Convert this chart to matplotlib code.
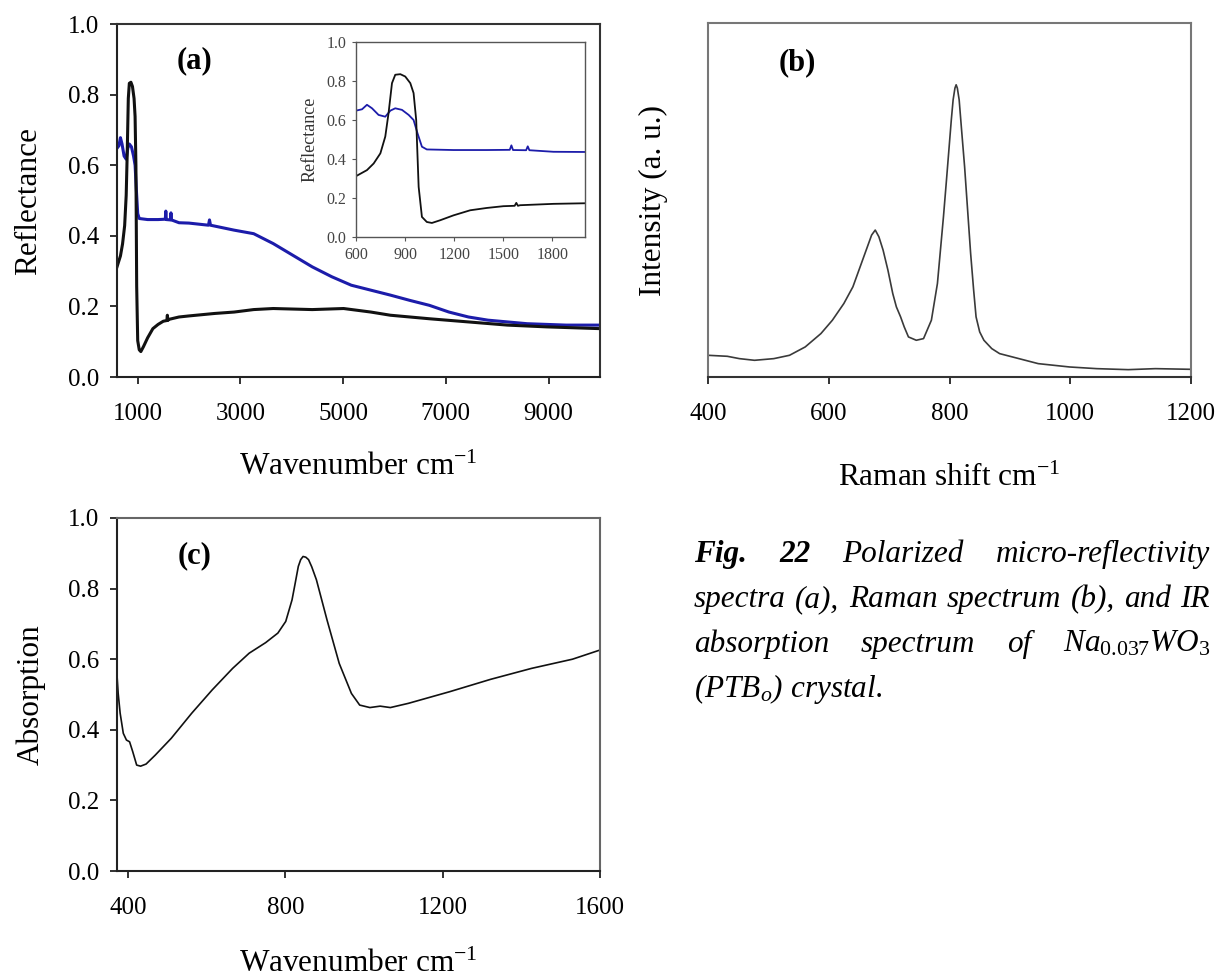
import matplotlib
matplotlib.use("Agg")
import matplotlib.pyplot as plt
from matplotlib.ticker import FixedLocator, FormatStrFormatter

# Panel (a): polarized micro-reflectivity (two polarizations)
refl_black_x = [600, 667, 708, 749, 779, 799, 820, 840, 871, 901, 932, 952, 968, 983, 1003,
                1033, 1064, 1115, 1196, 1298, 1400, 1501, 1570, 1580, 1590, 1603, 1807, 2000,
                2500, 2880, 3260, 3640, 4400, 5010, 5540, 5920, 6680, 7440, 8200, 8960, 10000]
refl_black_y = [0.312, 0.343, 0.377, 0.429, 0.515, 0.635, 0.789, 0.832, 0.835, 0.823, 0.789,
                0.738, 0.600, 0.257, 0.103, 0.077, 0.072, 0.086, 0.111, 0.137, 0.149, 0.158,
                0.160, 0.175, 0.160, 0.163, 0.170, 0.173, 0.180, 0.184, 0.191, 0.194, 0.191,
                0.194, 0.184, 0.175, 0.165, 0.156, 0.147, 0.142, 0.137]
refl_blue_x = [600, 637, 667, 698, 738, 779, 810, 840, 881, 922, 952, 976, 1003, 1033, 1196,
               1400, 1540, 1550, 1560, 1640, 1650, 1660, 1807, 2000, 2380, 2400, 2420, 2880,
               3260, 3640, 4020, 4400, 4780, 5160, 5540, 5920, 6300, 6680, 7060, 7440, 7820,
               8200, 8580, 8960, 9340, 10000]
refl_blue_y = [0.648, 0.655, 0.678, 0.660, 0.626, 0.617, 0.648, 0.660, 0.652, 0.626, 0.600,
               0.532, 0.463, 0.449, 0.446, 0.446, 0.447, 0.470, 0.446, 0.445, 0.465, 0.445,
               0.437, 0.436, 0.430, 0.445, 0.430, 0.416, 0.406, 0.378, 0.345, 0.312, 0.284,
               0.260, 0.246, 0.232, 0.217, 0.203, 0.184, 0.170, 0.161, 0.156, 0.151, 0.149,
               0.147, 0.147]

# Panel (b): Raman spectrum (arbitrary units)
raman_x = [400, 432, 452, 477, 509, 535, 561, 587, 606, 625, 640, 650, 658, 665, 671, 677,
           683, 690, 698, 706, 712, 719, 725, 732, 745, 757, 770, 780, 785, 790, 795, 799,
           803, 806, 809, 811, 813, 816, 820, 825, 830, 835, 840, 844, 850, 857, 870, 883,
           915, 947, 999, 1044, 1096, 1141, 1200]
raman_y = [65, 62, 55, 50, 55, 65, 90, 130, 170, 220, 270, 320, 360, 395, 425, 440, 420,
           380, 320, 250, 210, 180, 150, 120, 110, 115, 170, 280, 380, 480, 590, 680, 770,
           830, 865, 875, 865, 830, 740, 630, 500, 370, 260, 180, 135, 110, 85, 70, 55, 40,
           30, 25, 22, 25, 23]

# Panel (c): IR absorption
abs_x = [372, 375, 380, 388, 396, 404, 412, 422, 432, 446, 469, 510, 562, 614, 666, 708, 750,
         781, 801, 817, 825, 833, 839, 845, 852, 859, 867, 879, 906, 937, 968, 989, 1015, 1041,
         1067, 1113, 1218, 1322, 1426, 1530, 1600]
abs_y = [0.555, 0.503, 0.447, 0.390, 0.371, 0.366, 0.338, 0.300, 0.297, 0.303, 0.328, 0.376,
         0.447, 0.513, 0.574, 0.617, 0.647, 0.674, 0.707, 0.768, 0.815, 0.863, 0.882, 0.891,
         0.889, 0.882, 0.862, 0.825, 0.711, 0.588, 0.503, 0.470, 0.463, 0.467, 0.463, 0.475,
         0.508, 0.543, 0.574, 0.600, 0.626]

plt.rcParams["font.family"] = ["Liberation Serif", "DejaVu Serif"]
plt.rcParams["mathtext.fontset"] = "custom"
plt.rcParams["mathtext.rm"] = "Liberation Serif"
plt.rcParams["mathtext.it"] = "Liberation Serif:italic"
plt.rcParams["mathtext.bf"] = "Liberation Serif:bold"

W, H = 1221, 980
fig = plt.figure(figsize=(W / 100, H / 100), dpi=100)


def box(l, t, r, b):
    # pixel box (from top-left) -> figure fraction rect
    return [l / W, 1 - b / H, (r - l) / W, (b - t) / H]


def label(x, y, s):
    fig.text(x / W, 1 - y / H, s, fontsize=22, fontweight="bold", ha="center", va="center")


TICK = 18
LAB = 22.5
BLUE = "#1c1caa"


def style(ax, dark="#222222", light="#555555"):
    for s in ["left", "bottom"]:
        ax.spines[s].set_color(dark)
        ax.spines[s].set_linewidth(1.5)
    for s in ["top", "right"]:
        ax.spines[s].set_color(light)
        ax.spines[s].set_linewidth(1.5)
    ax.tick_params(direction="out", length=5, width=1.3, labelsize=TICK, pad=8, color="#222222")


# (a)
ax1 = fig.add_axes(box(117, 24, 600, 377))
ax1.plot(refl_blue_x, refl_blue_y, color=BLUE, lw=2.2)
ax1.plot(refl_black_x, refl_black_y, color="#111111", lw=2.2)
ax1.set_xlim(600, 10000)
ax1.set_ylim(0, 1)
ax1.xaxis.set_major_locator(FixedLocator([1000, 3000, 5000, 7000, 9000]))
ax1.yaxis.set_major_locator(FixedLocator([0, 0.2, 0.4, 0.6, 0.8, 1.0]))
ax1.yaxis.set_major_formatter(FormatStrFormatter("%.1f"))
style(ax1, "#222222", "#333333")
ax1.tick_params(axis="x", pad=14)
ax1.set_xlabel("Wavenumber cm$^{\\mathregular{-1}}$", fontsize=LAB, labelpad=20)
ax1.set_ylabel("Reflectance", fontsize=LAB, labelpad=18)
label(194, 61, "(a)")

# inset of (a)
ins = fig.add_axes(box(356, 42, 585, 237))
ins.plot(refl_blue_x, refl_blue_y, color=BLUE, lw=1.3)
ins.plot(refl_black_x, refl_black_y, color="#111111", lw=1.3)
ins.set_xlim(600, 2000)
ins.set_ylim(0, 1)
ins.xaxis.set_major_locator(FixedLocator([600, 900, 1200, 1500, 1800]))
ins.yaxis.set_major_locator(FixedLocator([0, 0.2, 0.4, 0.6, 0.8, 1.0]))
ins.yaxis.set_major_formatter(FormatStrFormatter("%.1f"))
for s in ins.spines.values():
    s.set_color("#555555")
    s.set_linewidth(1.0)
ins.tick_params(direction="out", length=3, width=0.8, labelsize=11.5, pad=4,
                color="#555555", labelcolor="#444444")
ins.set_ylabel("Reflectance", fontsize=13, color="#333333", labelpad=6)

# (b)
ax2 = fig.add_axes(box(708, 23, 1191, 377))
ax2.plot(raman_x, raman_y, color="#3a3a3a", lw=1.2)
ax2.set_xlim(400, 1200)
ax2.set_ylim(0, 1060)
ax2.xaxis.set_major_locator(FixedLocator([400, 600, 800, 1000, 1200]))
ax2.set_yticks([])
style(ax2, "#333333", "#777777")
ax2.spines["left"].set_color("#777777")
ax2.tick_params(axis="x", pad=14)
ax2.set_xlabel("Raman shift cm$^{\\mathregular{-1}}$", fontsize=LAB, labelpad=28)
ax2.set_ylabel("Intensity (a. u.)", fontsize=LAB, labelpad=29)
label(797, 63, "(b)")

# (c)
ax3 = fig.add_axes(box(117, 518, 600, 871))
ax3.plot(abs_x, abs_y, color="#111111", lw=1.2)
ax3.set_xlim(372, 1600)
ax3.set_ylim(0, 1)
ax3.xaxis.set_major_locator(FixedLocator([400, 800, 1200, 1600]))
ax3.yaxis.set_major_locator(FixedLocator([0, 0.2, 0.4, 0.6, 0.8, 1.0]))
ax3.yaxis.set_major_formatter(FormatStrFormatter("%.1f"))
style(ax3, "#222222", "#666666")
ax3.tick_params(axis="x", pad=14)
ax3.set_xlabel("Wavenumber cm$^{\\mathregular{-1}}$", fontsize=LAB, labelpad=22)
ax3.set_ylabel("Absorption", fontsize=LAB, labelpad=16)
label(195, 556, "(c)")

# caption, justified like the original text block
CAP = 22.5
X0, X1 = 694, 1210
it = dict(style="italic", fontsize=CAP)
bi = dict(style="italic", fontweight="bold", fontsize=CAP)
lines = [
    (562, [("Fig.", bi), ("22", bi), ("Polarized", it), ("micro-reflectivity", it)]),
    (607, [("spectra", it), ("(a),", it), ("Raman", it), ("spectrum", it), ("(b),", it),
           ("and", it), ("IR", it)]),
    (652, [("absorption", it), ("spectrum", it), ("of", it),
           ("$\\mathit{Na}_{\\mathit{0.037}}\\mathit{WO}_{\\mathit{3}}$", it)]),
]
renderer = fig.canvas.get_renderer()
for yb, words in lines:
    texts = [fig.text(0, 1 - yb / H, w, va="baseline", **kw) for w, kw in words]
    widths = [t.get_window_extent(renderer).width for t in texts]
    gap = (X1 - X0 - sum(widths)) / (len(texts) - 1)
    x = X0
    for t, w in zip(texts, widths):
        t.set_x(x / W)
        x += w + gap
fig.text(X0 / W, 1 - 697 / H, "(PTB$_{\\mathit{o}}$) crystal.", va="baseline", **it)

fig.savefig("out.png", dpi=100)
